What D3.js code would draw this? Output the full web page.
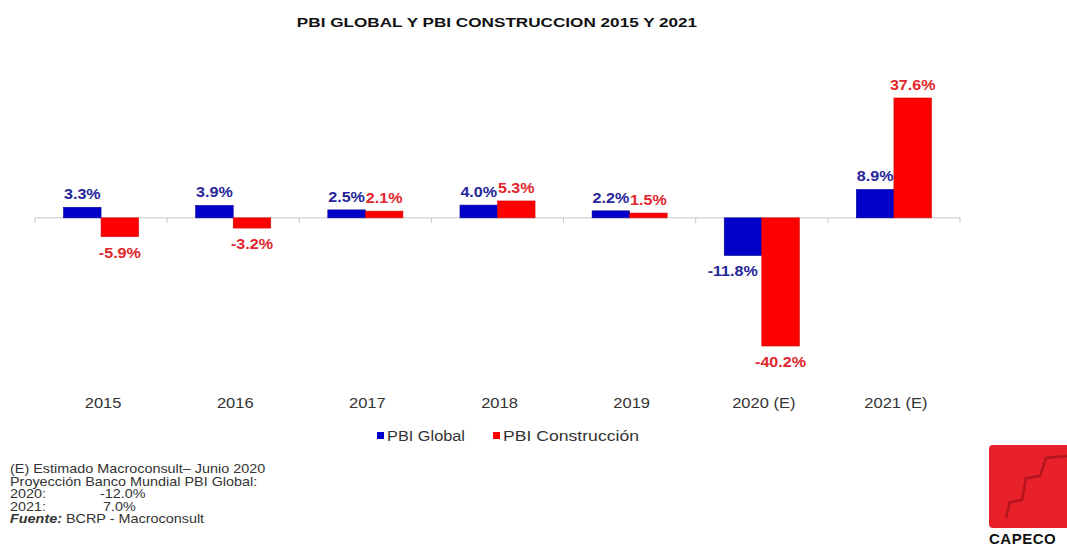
<!DOCTYPE html>
<html>
<head>
<meta charset="utf-8">
<script src="https://cdn.jsdelivr.net/npm/d3@7"></script>
<style>
	body { margin: 0; background: #fff; }
	svg { font-family: "Liberation Sans", Arial, sans-serif; }
</style>
</head>
<body>
<svg id="chart" width="1067" height="549"></svg>
<script>

let years = ['2015', '2016', '2017', '2018', '2019', '2020 (E)', '2021 (E)'];
let seriesNames = ['PBI Global', 'PBI Construcción'];
let pbiGlobal = [3.3, 3.9, 2.5, 4.0, 2.2, -11.8, 8.9];
let pbiConstruccion = [-5.9, -3.2, 2.1, 5.3, 1.5, -40.2, 37.6];
let noteLines = [
	'(E) Estimado Macroconsult\u2013 Junio 2020',
	'Proyección Banco Mundial PBI Global:'
];
let noteYears = ['2020:', '2021:'];
let noteValues = ['-12.0%', '7.0%'];

let barColors = ['#0000c8', '#ff0000'];
let labelColors = ['#26269a', '#e3262c'];

let svg = d3.select('#chart');

// text stretched horizontally (the reference is wider than plain fonts)
function wideText(parent, x, y, sx) {
	return parent.append('text')
		.attr('transform', `translate(${x},${y}) scale(${sx},1)`);
}

// title
wideText(svg, 497, 27, 1.27)
	.attr('text-anchor', 'middle')
	.attr('font-size', 13.5).attr('font-weight', 'bold')
	.attr('fill', '#111')
	.text('PBI GLOBAL Y PBI CONSTRUCCION 2015 Y 2021');

// scales
let x0 = d3.scaleBand().domain(years).range([35, 960]).paddingInner(0).paddingOuter(0);
let x1 = d3.scaleBand().domain(seriesNames).range([0, x0.bandwidth()]).paddingOuter(0.76).paddingInner(0);
let y = d3.scaleLinear().domain([-40.2, 37.6]).range([346, 98]);

let data = years.map((yr, i) => ({ year: yr, values: [pbiGlobal[i], pbiConstruccion[i]] }));

// axis line with ticks at band edges
let axisG = svg.append('g');
axisG.append('line')
	.attr('x1', 35).attr('x2', 960)
	.attr('y1', y(0)).attr('y2', y(0))
	.attr('stroke', '#c8c8c8').attr('stroke-width', 1);
let edges = years.map(d => x0(d)).concat([x0(years[years.length - 1]) + x0.bandwidth()]);
axisG.selectAll('.tk').data(edges).enter().append('line')
	.attr('x1', d => d).attr('x2', d => d)
	.attr('y1', y(0)).attr('y2', y(0) + 5)
	.attr('stroke', '#c8c8c8');

// bars
let groups = svg.selectAll('.grp').data(data).enter().append('g')
	.attr('transform', d => `translate(${x0(d.year)},0)`);

let cells = d => d.values.map((v, k) => ({ v: v, k: k, other: d.values[1 - k] }));

groups.selectAll('rect').data(cells).enter().append('rect')
	.attr('x', d => x1(seriesNames[d.k]))
	.attr('width', x1.bandwidth())
	.attr('y', d => y(Math.max(0, d.v)))
	.attr('height', d => Math.abs(y(d.v) - y(0)))
	.attr('fill', d => barColors[d.k])
	.attr('stroke', d => d.k === 0 ? '#00009a' : '#d40000')
	.attr('stroke-width', 0.6);

groups.each(function (d) {
	let g = d3.select(this);
	cells(d).forEach(c => {
		let bx = x1(seriesNames[c.k]);
		let cx = bx + x1.bandwidth() / 2;
		let anchor = 'middle';
		// blue negative label sits left of a deeper red bar
		if (c.k === 0 && c.v < 0 && c.other < c.v) {
			cx = bx + x1.bandwidth() - 4;
			anchor = 'end';
		}
		wideText(g, cx, c.v >= 0 ? y(c.v) - 8 : y(c.v) + 21, 1.15)
			.attr('text-anchor', anchor)
			.attr('font-size', 14).attr('font-weight', 'bold')
			.attr('fill', labelColors[c.k])
			.text(c.v.toFixed(1) + '%');
	});
});

// category labels
years.forEach(d => {
	wideText(svg, x0(d) + x0.bandwidth() / 2 + 2, 408, 1.1)
		.attr('text-anchor', 'middle')
		.attr('font-size', 15).attr('fill', '#333')
		.text(d);
});

// legend
let legendX = [377, 493];
let legendW = [78, 136];
seriesNames.forEach((s, k) => {
	svg.append('rect')
		.attr('x', legendX[k]).attr('y', 432)
		.attr('width', 7).attr('height', 7)
		.attr('fill', barColors[k]);
	svg.append('text')
		.attr('x', legendX[k] + 10).attr('y', 441)
		.attr('font-size', 14).attr('fill', '#333')
		.attr('textLength', legendW[k]).attr('lengthAdjust', 'spacingAndGlyphs')
		.text(s);
});

// footnote
let noteG = svg.append('g').attr('font-size', 12).attr('fill', '#333');
let noteSx = 1.2;
let noteValX = [100, 103];
noteLines.forEach((t, i) => {
	wideText(noteG, 10, 473 + i * 12.5, noteSx).text(t);
});
noteYears.forEach((t, i) => {
	wideText(noteG, 10, 498 + i * 12.5, noteSx).text(t);
	wideText(noteG, noteValX[i], 498 + i * 12.5, noteSx).text(noteValues[i]);
});
let src = wideText(noteG, 10, 523, noteSx);
src.append('tspan').attr('font-weight', 'bold').attr('font-style', 'italic').text('Fuente:');
src.append('tspan').text(' BCRP - Macroconsult');

// logo
let logo = svg.append('g');
logo.append('rect')
	.attr('x', 989).attr('y', 445).attr('width', 90).attr('height', 83)
	.attr('rx', 4).attr('fill', '#e8202a');
logo.append('path')
	.attr('d', 'M1006,518 L1010,502 L1022,500 L1026,478 L1040,476 L1046,458 L1067,456')
	.attr('fill', 'none').attr('stroke', '#a8121a').attr('stroke-width', 2.5)
	.attr('opacity', 0.8);
logo.append('text')
	.attr('x', 989).attr('y', 544)
	.attr('font-size', 15).attr('font-weight', 'bold').attr('fill', '#111')
	.attr('letter-spacing', 0.5)
	.text('CAPECO');

</script>
</body>
</html>
